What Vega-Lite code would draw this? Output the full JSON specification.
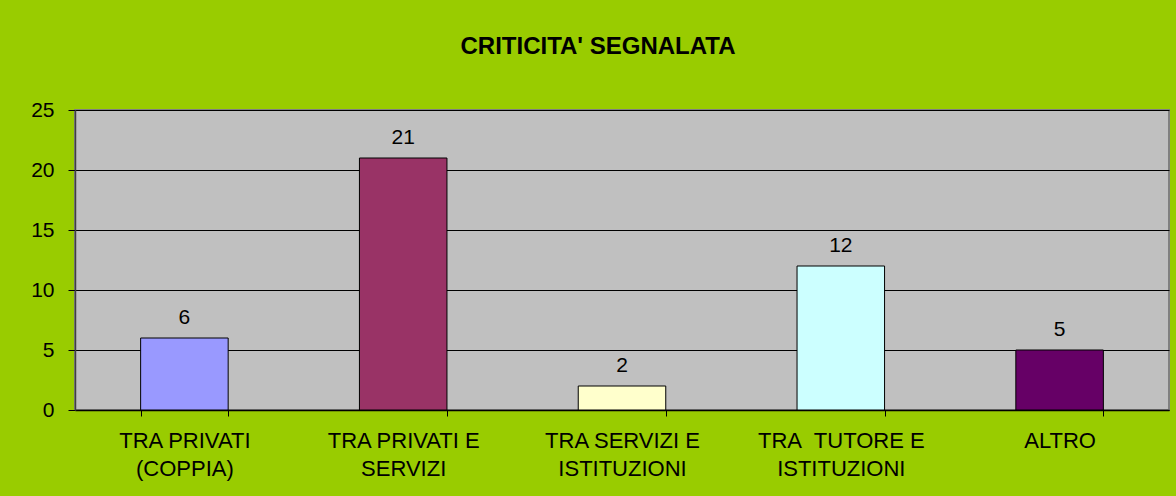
{
  "$schema": "https://vega.github.io/schema/vega-lite/v6.json",
  "width": 1094,
  "height": 300,
  "autosize": {"type": "none"},
  "padding": {"left": 75, "top": 110, "right": 7, "bottom": 86},
  "background": "#99CC00",
  "title": {
    "text": "CRITICITA' SEGNALATA",
    "font": "Liberation Sans",
    "fontSize": 24,
    "fontWeight": "bold",
    "color": "#000000",
    "anchor": "middle",
    "baseline": "alphabetic",
    "dx": -24,
    "offset": 21
  },
  "data": {
    "values": [
      {"categoria": "TRA PRIVATI|(COPPIA)", "valore": 6, "colore": "#9999FF"},
      {"categoria": "TRA PRIVATI E|SERVIZI", "valore": 21, "colore": "#993366"},
      {"categoria": "TRA SERVIZI E|ISTITUZIONI", "valore": 2, "colore": "#FFFFCC"},
      {"categoria": "TRA\u00a0 TUTORE E|ISTITUZIONI", "valore": 12, "colore": "#CCFFFF"},
      {"categoria": "ALTRO", "valore": 5, "colore": "#660066"}
    ]
  },
  "config": {
    "view": {"fill": "#C0C0C0", "stroke": "#808080", "strokeWidth": 2},
    "font": "Liberation Sans"
  },
  "encoding": {
    "x": {
      "field": "categoria",
      "type": "nominal",
      "sort": null,
      "scale": {"paddingInner": 0.6, "paddingOuter": 0.3},
      "axis": {
        "title": null,
        "labelAngle": 0,
        "labelExpr": "split(datum.label, '|')",
        "labelFont": "Liberation Sans",
        "labelFontSize": 22,
        "labelColor": "#000000",
        "labelPadding": 14,
        "labelLineHeight": 28,
        "tickBand": "extent",
        "tickColor": "#000000",
        "tickSize": 6,
        "domainColor": "#000000",
        "domainWidth": 1.5
      }
    },
    "y": {
      "field": "valore",
      "type": "quantitative",
      "scale": {"domain": [0, 25], "nice": false},
      "axis": {
        "title": null,
        "values": [0, 5, 10, 15, 20, 25],
        "labelFont": "Liberation Sans",
        "labelFontSize": 21,
        "labelColor": "#000000",
        "labelPadding": 14,
        "tickColor": "#000000",
        "tickSize": 7,
        "gridColor": "#000000",
        "gridWidth": 1,
        "gridOpacity": 1,
        "domainColor": "#404040",
        "domainWidth": 1.5
      }
    }
  },
  "layer": [
    {
      "mark": {"type": "bar", "stroke": "#000000", "strokeWidth": 1},
      "encoding": {
        "color": {"field": "colore", "type": "nominal", "scale": null, "legend": null}
      }
    },
    {
      "mark": {"type": "text", "baseline": "alphabetic", "dy": -14, "fontSize": 21, "font": "Liberation Sans", "color": "#000000"},
      "encoding": {
        "text": {"field": "valore", "type": "quantitative"}
      }
    }
  ]
}
